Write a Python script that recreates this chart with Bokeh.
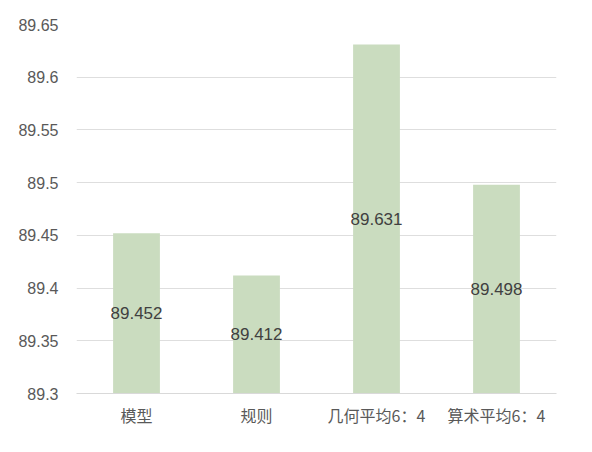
from bokeh.plotting import figure
from bokeh.models import ColumnDataSource, FixedTicker, Range1d
from bokeh.core.properties import value
from bokeh.embed import file_html
from bokeh.resources import INLINE

categories = ["模型", "规则", "几何平均6：4", "算术平均6：4"]
values = [89.452, 89.412, 89.631, 89.498]
value_labels = ["89.452", "89.412", "89.631", "89.498"]
y_ticks = [89.3, 89.35, 89.4, 89.45, 89.5, 89.55, 89.6, 89.65]
y_tick_labels = ["89.3", "89.35", "89.4", "89.45", "89.5", "89.55", "89.6", "89.65"]
y_min, y_max = 89.3, 89.65

src = ColumnDataSource(dict(
    cat=categories,
    top=values,
    mid=[(y_min + v) / 2 for v in values],
    lab=value_labels,
))

p = figure(x_range=categories, y_range=Range1d(y_min, y_max),
           width=584, height=444, output_backend="svg", toolbar_location=None,
           min_border_left=76, min_border_right=28, min_border_top=24, min_border_bottom=51)
p.outline_line_color = None
p.background_fill_color = "white"
p.border_fill_color = "white"

p.vbar(x="cat", top="top", bottom=y_min, width=0.39, source=src,
       fill_color="#cadcbf", line_color=None)

p.text(x="cat", y="mid", text="lab", source=src, text_align="center", text_baseline="middle",
       text_font=value("Liberation Sans"), text_font_size="17px", text_color="#404040")

font = "Liberation Sans, Noto Sans CJK SC"
p.yaxis.ticker = FixedTicker(ticks=y_ticks)
p.yaxis.major_label_overrides = {t: s for t, s in zip(y_ticks, y_tick_labels)}
p.yaxis.axis_line_color = None
p.yaxis.major_tick_line_color = None
p.yaxis.minor_tick_line_color = None
p.yaxis.major_label_text_font = font
p.yaxis.major_label_text_font_size = "16px"
p.yaxis.major_label_text_color = "#595959"
p.yaxis.major_label_standoff = 12

p.xaxis.axis_line_color = "#d9d9d9"
p.xaxis.major_tick_line_color = None
p.xaxis.minor_tick_line_color = None
p.xaxis.major_label_text_font = "Noto Sans CJK SC"
p.xaxis.major_label_text_font_size = "16px"
p.xaxis.major_label_text_color = "#595959"
p.xaxis.major_label_standoff = 3

p.xgrid.grid_line_color = None
p.ygrid.grid_line_color = "#dedede"
p.ygrid.ticker = FixedTicker(ticks=y_ticks)

open("out.html", "w").write(file_html(p, INLINE))
